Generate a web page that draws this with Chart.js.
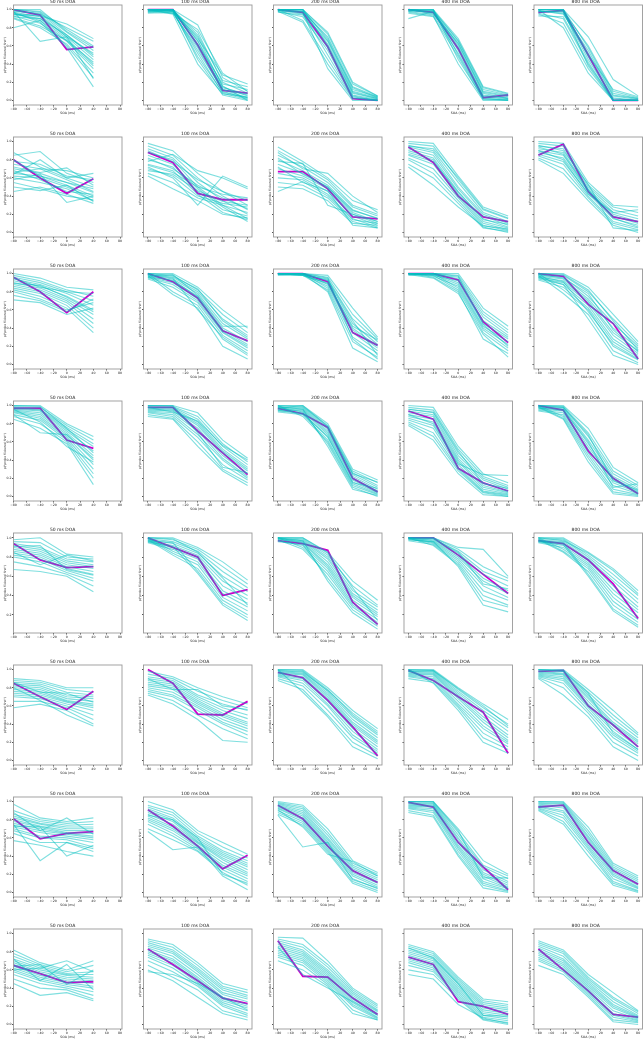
<!DOCTYPE html>
<html lang="en">
<head>
<meta charset="UTF-8">
<title>p(probe first) by SOA and DOA</title>
<script src="https://cdn.jsdelivr.net/npm/chart.js"></script>
<style>
  body { margin: 0; background: #fff; width: 644px; height: 1040px; overflow: hidden; position: relative; }
  .panel { position: absolute; }
</style>
</head>
<body>
<script>
// x values (SOA, ms) and tick labels
const soaShort = [-80, -40, 0, 40];        // 50 ms DOA panels
const soaLong = [-80, -40, 0, 40, 80];     // all other panels
const xTicks = [-80, -60, -40, -20, 0, 20, 40, 60, 80];
const yTicks = [0, 0.2, 0.4, 0.6, 0.8, 1.0];
const doaTitles = ['50 ms DOA', '100 ms DOA', '200 ms DOA', '400 ms DOA', '800 ms DOA'];

// group mean (magenta) per panel, values in percent, one row of the figure per array
const meanR1 = [[100,94,56,59], [100,100,61,11,8], [100,97,59,2,0], [100,97,57,3,6], [97,99,50,0,0]];
const meanR2 = [[80,60,43,59], [88,77,43,36,36], [67,67,48,17,15], [94,77,40,17,12], [85,97,45,17,12]];
const meanR3 = [[96,80,57,80], [100,91,73,37,26], [100,100,91,35,21], [100,100,93,47,24], [100,97,66,45,6]];
const meanR4 = [[97,97,62,53], [98,98,72,48,24], [97,91,76,20,5], [94,85,31,15,6], [100,95,50,20,3]];
const meanR5 = [[94,77,69,70], [100,90,80,40,46], [97,94,87,33,10], [100,100,82,62,42], [97,94,77,52,16]];
const meanR6 = [[85,70,56,76], [100,85,51,50,65], [97,91,66,37,5], [99,88,70,53,8], [98,99,60,39,15]];
const meanR7 = [[81,59,65,67], [91,73,51,26,41], [96,81,51,24,11], [99,94,55,28,3], [94,96,55,24,9]];
const meanR8 = [[65,56,46,47], [83,66,48,29,23], [92,53,52,29,11], [74,66,25,20,11], [83,60,37,11,8]];

// individual participants (cyan), values in percent
const subjR1 = [
  [[100,98,78,60],[98,96,72,50],[97,92,70,45],[95,90,68,40],[100,97,75,55],[93,85,65,35],[96,88,60,25],[90,80,62,30],[99,95,80,65],[92,90,72,48],[80,88,66,42],[98,65,70,52],[94,93,84,68],[97,86,58,15],[100,100,76,58],[91,82,66,38],[95,94,70,24]],
  [[100,100,83,25,10],[100,99,75,20,8],[98,98,70,15,5],[100,100,65,12,3],[97,96,58,10,2],[100,98,52,8,1],[99,100,45,6,0],[100,95,40,7,4],[98,99,62,18,12],[100,100,68,28,18],[96,97,55,12,6],[100,100,72,22,15],[99,98,48,9,3],[100,96,78,30,10],[97,100,60,14,7],[100,99,66,16,0]],
  [[100,100,75,20,5],[100,98,70,15,4],[99,95,65,10,3],[100,100,60,8,2],[98,92,55,5,0],[100,88,45,3,0],[99,97,35,0,0],[100,99,68,12,4],[97,94,58,6,1],[100,100,73,18,5],[100,96,50,4,0],[99,98,62,9,2],[98,86,40,2,1],[100,100,66,14,3]],
  [[100,100,68,15,8],[99,98,62,10,5],[100,96,58,6,3],[98,94,52,4,1],[100,100,45,2,0],[90,98,60,8,2],[97,93,40,0,0],[100,99,65,12,6],[99,97,55,5,2],[98,100,50,3,0],[100,95,63,9,4],[96,92,48,1,1],[100,99,66,14,7]],
  [[100,100,70,23,5],[98,98,60,10,3],[99,95,55,6,2],[100,100,48,3,0],[96,90,40,1,0],[95,85,35,0,0],[100,80,30,0,0],[97,99,52,5,1],[99,97,45,2,0],[100,100,58,8,2],[93,92,42,0,0],[98,96,50,12,4],[100,99,38,0,1]]
];
const subjR2 = [
  [[88,72,60,50],[85,89,65,55],[75,70,58,45],[70,65,55,48],[65,62,52,40],[62,60,50,38],[60,55,48,35],[45,50,42,32],[55,48,40,36],[78,75,62,58],[68,58,45,42],[72,66,71,52],[64,80,60,65],[58,64,33,40],[80,62,55,44],[66,70,68,60],[50,46,52,34]],
  [[98,90,65,45,30],[95,85,60,40,25],[92,82,55,35,20],[88,80,50,30,15],[85,75,48,28,12],[80,72,45,25,18],[75,68,42,22,14],[70,62,40,32,28],[65,55,38,30,22],[62,48,35,20,16],[78,86,68,60,48],[72,60,30,62,50],[90,78,58,45,35],[82,70,52,38,26],[68,64,46,34,30],[74,66,50,42,38]],
  [[94,78,60,35,25],[90,75,58,30,20],[85,72,55,28,18],[80,68,52,25,15],[75,65,50,22,12],[70,62,48,20,10],[65,60,45,18,8],[60,58,42,15,6],[55,52,38,12,5],[50,48,35,10,8],[45,56,40,14,10],[88,70,65,40,22],[78,76,30,20,12],[72,55,46,8,5],[82,64,50,24,16]],
  [[100,98,62,28,18],[98,95,58,25,15],[96,90,55,22,12],[94,88,50,20,10],[92,85,48,18,8],[90,82,45,15,6],[88,80,42,12,5],[85,75,40,10,3],[82,70,38,8,2],[80,65,35,6,0],[75,60,32,5,1],[72,52,28,7,4],[95,92,60,26,16],[86,78,44,14,9]],
  [[100,98,55,30,28],[98,95,52,28,22],[95,92,50,25,18],[92,88,48,22,15],[90,85,46,20,12],[88,82,45,18,10],[86,78,43,15,8],[84,75,40,12,5],[82,70,38,10,3],[80,65,35,8,0],[96,90,53,5,2],[90,80,42,22,25],[94,86,47,16,6]]
];
const subjR3 = [
  [[100,95,85,82],[98,92,82,75],[96,90,80,70],[94,88,78,65],[92,86,75,60],[90,84,72,55],[88,82,70,50],[86,80,68,45],[84,78,65,40],[82,75,62,35],[80,72,60,68],[71,68,55,62],[76,70,58,72],[95,85,80,78],[89,87,74,58]],
  [[100,100,85,60,40],[100,98,82,55,35],[99,96,80,50,32],[98,94,78,45,28],[97,92,75,40,25],[96,90,72,38,22],[95,88,70,35,18],[94,85,68,32,15],[100,80,65,28,10],[98,77,62,20,6],[99,95,60,30,12],[97,99,76,42,42],[96,93,74,36,20],[100,97,83,48,30]],
  [[100,100,98,62,30],[100,100,96,55,28],[100,99,94,50,25],[99,100,92,45,22],[100,98,90,40,20],[100,100,88,38,18],[98,99,86,35,15],[100,100,84,30,12],[99,98,82,25,8],[100,100,80,18,3],[100,99,93,48,10],[99,100,95,28,6],[100,98,89,42,27]],
  [[100,100,100,62,42],[100,100,98,58,38],[100,99,96,55,35],[99,100,94,52,32],[100,98,92,48,30],[100,100,90,45,28],[98,99,88,42,25],[100,97,86,40,22],[99,100,84,38,18],[100,98,82,35,15],[100,96,80,28,12],[99,95,78,33,8],[100,100,97,44,20]],
  [[100,100,85,55,25],[99,98,80,50,22],[98,96,75,45,20],[97,94,72,40,18],[96,92,70,35,15],[95,90,68,32,12],[94,88,65,28,10],[93,85,62,25,8],[100,82,60,20,5],[98,78,55,15,2],[96,88,50,10,0],[99,95,78,38,14],[97,91,58,22,6],[100,99,82,48,16]]
];
const subjR4 = [
  [[100,100,80,66],[99,98,78,62],[98,96,76,58],[97,95,74,55],[96,94,72,50],[95,92,70,45],[94,90,68,40],[93,88,66,35],[92,86,64,30],[90,84,62,25],[88,80,60,20],[85,75,58,13],[90,70,68,42],[100,99,75,48],[96,82,55,38]],
  [[100,100,92,62,42],[100,99,88,58,38],[99,98,85,55,35],[98,97,82,52,32],[97,96,80,50,30],[96,95,78,48,28],[95,94,75,45,25],[94,92,72,42,22],[93,90,68,40,20],[92,88,65,35,18],[90,86,60,30,15],[88,85,55,28,12],[100,100,70,32,26],[98,93,83,56,40]],
  [[100,100,80,30,18],[100,99,78,28,15],[99,98,76,26,12],[98,97,74,24,10],[97,96,72,22,8],[96,95,70,20,6],[95,94,68,18,5],[94,92,65,16,4],[93,90,62,14,3],[100,88,60,12,2],[98,93,58,10,0],[99,96,55,8,1],[97,100,77,25,16],[95,91,66,15,9]],
  [[100,98,55,25,15],[98,95,52,22,12],[96,92,48,20,10],[94,90,45,18,8],[92,88,42,15,6],[90,85,40,12,5],[88,82,38,10,4],[86,78,35,8,3],[84,75,32,6,2],[82,70,30,5,1],[80,66,28,4,0],[78,62,25,2,0],[90,80,36,24,23],[96,93,50,14,9]],
  [[100,100,75,32,15],[100,99,70,28,12],[99,98,66,25,10],[98,97,62,22,8],[97,96,58,20,6],[96,94,55,18,5],[95,92,52,15,4],[94,90,48,12,3],[100,88,45,8,2],[99,86,42,5,1],[98,85,38,3,0],[97,95,60,10,14],[100,98,68,17,7]]
];
const subjR5 = [
  [[98,100,83,80],[96,95,80,78],[94,90,78,75],[92,88,76,72],[90,86,74,70],[88,84,72,68],[86,82,70,65],[84,80,68,62],[82,78,66,58],[80,75,64,55],[75,70,62,50],[67,65,60,44],[85,72,82,76],[91,92,67,61]],
  [[100,100,90,75,56],[100,98,88,70,52],[99,96,86,65,48],[98,94,84,60,44],[97,92,82,55,40],[96,90,80,50,36],[95,88,78,45,32],[100,86,75,42,28],[99,84,72,38,24],[98,82,68,35,20],[97,95,65,32,17],[96,91,63,30,14],[100,99,85,58,30]],
  [[100,100,85,55,35],[100,99,82,50,30],[99,98,80,45,28],[100,97,78,42,25],[98,96,75,40,22],[100,95,72,38,20],[99,94,70,35,18],[97,92,68,32,15],[100,90,65,30,12],[98,88,62,28,10],[96,93,58,25,8],[99,97,55,22,5],[100,100,84,48,14]],
  [[100,100,90,88,60],[100,100,88,70,58],[100,99,86,65,55],[99,98,84,62,50],[100,97,82,58,45],[98,96,80,55,42],[100,95,78,50,38],[99,94,76,45,35],[97,93,74,40,30],[100,92,72,35,28],[98,96,70,30,23],[99,99,85,52,47]],
  [[100,100,85,68,45],[100,99,82,62,40],[99,98,80,58,36],[98,96,78,55,32],[97,94,76,50,28],[96,92,74,46,25],[95,90,72,42,22],[100,88,70,38,18],[99,86,68,34,15],[98,85,65,30,12],[97,95,62,26,9],[96,93,60,24,7],[100,97,84,66,42]]
];
const subjR6 = [
  [[90,88,80,80],[88,86,78,75],[86,84,75,72],[84,82,72,70],[82,80,70,68],[80,78,68,65],[78,76,66,62],[76,74,65,60],[74,72,64,58],[72,70,62,55],[70,68,60,50],[65,65,58,45],[58,62,55,40],[80,66,50,38],[86,75,74,64]],
  [[98,92,80,70,62],[95,90,76,66,58],[92,88,72,62,55],[90,86,70,58,50],[88,84,68,55,46],[86,82,66,52,42],[84,80,64,50,40],[82,78,62,48,38],[80,75,60,45,35],[78,72,58,42,32],[76,70,55,40,28],[74,66,50,35,24],[72,62,45,22,20],[90,78,78,60,56]],
  [[100,100,80,55,35],[100,99,78,50,30],[99,98,76,48,28],[98,96,74,45,25],[97,95,72,42,22],[96,94,70,40,20],[95,92,68,38,18],[94,90,65,35,15],[93,88,62,32,12],[92,85,60,28,10],[90,82,55,25,8],[88,78,50,20,5],[100,75,48,15,2],[99,97,77,52,32]],
  [[100,100,80,62,45],[100,99,78,58,40],[99,98,76,55,36],[98,97,74,52,32],[97,96,72,48,28],[96,95,70,45,25],[95,94,68,42,22],[94,92,65,38,20],[93,90,62,35,18],[92,88,60,30,15],[90,86,58,25,12],[100,85,55,20,8],[98,99,79,60,38]],
  [[100,100,78,55,30],[100,99,75,50,28],[99,98,72,46,25],[98,96,70,42,22],[97,95,68,40,20],[96,94,65,38,18],[95,92,62,35,15],[94,90,60,32,12],[93,88,58,28,10],[92,85,55,25,8],[91,80,52,20,5],[90,72,48,15,0],[100,98,74,30,12]]
];
const subjR7 = [
  [[97,82,78,82],[90,80,76,78],[86,78,74,75],[84,76,72,72],[82,75,70,70],[80,73,68,68],[78,72,66,65],[76,70,65,62],[74,68,64,60],[72,66,62,58],[70,62,60,55],[68,60,58,50],[65,55,55,45],[57,52,45,40],[75,35,55,48],[73,72,40,52],[88,68,82,64]],
  [[100,91,68,55,42],[96,88,65,50,38],[94,85,62,46,35],[92,82,60,44,32],[90,80,58,42,30],[88,78,56,40,28],[86,75,55,38,25],[84,72,54,36,22],[82,70,52,33,20],[80,68,50,30,18],[78,65,48,28,15],[75,62,46,25,12],[70,58,45,22,8],[67,47,50,18,3],[85,80,60,20,10]],
  [[100,96,70,35,22],[99,94,66,32,20],[98,92,63,30,18],[97,90,60,28,16],[96,88,58,26,14],[95,86,56,24,12],[94,84,54,22,10],[93,82,52,20,8],[92,80,50,18,6],[90,78,48,15,4],[88,76,46,12,2],[86,74,44,10,0],[85,50,55,14,5],[91,72,42,34,18]],
  [[100,100,70,35,20],[100,99,66,30,18],[99,98,63,28,15],[98,97,60,25,12],[97,96,58,22,10],[96,95,55,20,8],[95,94,52,18,6],[94,92,50,15,5],[93,90,48,12,4],[92,88,45,10,2],[90,85,42,8,1],[88,83,40,5,0],[100,100,68,16,16]],
  [[100,100,72,32,18],[100,99,68,30,16],[99,98,65,28,14],[98,97,62,26,12],[97,95,60,24,10],[96,93,58,22,8],[95,90,55,20,6],[94,88,52,18,5],[93,85,50,15,4],[92,82,48,12,2],[91,78,45,10,1],[90,75,40,8,0]]
];
const subjR8 = [
  [[82,68,60,70],[78,66,58,65],[75,64,56,58],[72,62,55,55],[70,60,54,52],[68,58,52,50],[66,56,50,48],[64,54,48,45],[62,52,46,42],[60,50,44,40],[58,48,42,36],[55,45,40,32],[50,40,38,28],[45,32,35,26],[60,62,70,58],[72,48,66,38],[64,66,44,60]],
  [[94,88,68,45,38],[92,85,65,42,35],[90,82,62,40,32],[88,80,60,38,30],[86,78,58,35,28],[84,75,55,33,25],[82,72,52,30,22],[80,70,50,28,20],[78,68,48,26,18],[76,65,46,24,15],[74,62,44,22,12],[70,58,42,20,10],[65,52,38,15,8],[60,48,30,12,5],[58,55,45,30,16]],
  [[96,95,70,40,22],[94,88,66,38,20],[92,85,63,36,18],[90,82,60,34,16],[88,80,58,32,15],[86,78,56,30,14],[84,76,54,28,12],[82,74,52,26,10],[80,72,50,24,8],[78,70,48,22,7],[76,68,46,20,6],[74,65,44,16,5],[70,60,42,12,5],[85,55,40,25,10]],
  [[88,80,52,28,25],[86,78,50,26,22],[84,76,48,24,20],[82,74,46,22,18],[80,72,44,20,16],[78,70,42,18,14],[76,68,40,16,12],[74,66,38,14,10],[72,64,36,12,8],[70,62,34,10,6],[68,60,32,8,4],[65,58,30,6,2],[60,55,28,5,0],[55,50,22,7,1],[84,73,45,10,9]],
  [[92,82,55,35,15],[90,80,52,30,14],[88,78,50,28,12],[86,75,48,25,10],[84,72,46,22,9],[82,70,44,20,8],[80,68,42,18,7],[78,66,40,15,6],[76,64,38,12,5],[74,62,36,10,4],[72,60,34,8,3],[70,58,32,5,2],[65,55,30,3,0]]
];

const means = [meanR1, meanR2, meanR3, meanR4, meanR5, meanR6, meanR7, meanR8];
const subjects = [subjR1, subjR2, subjR3, subjR4, subjR5, subjR6, subjR7, subjR8];
const yMinRow = [-0.05, -0.05, -0.05, -0.05, 0.01, -0.05, -0.05, -0.05];

// layout of the axes boxes on the page
const colLeft = [13.5, 143.5, 273.5, 404, 534];
const rowTop = [5, 137, 269, 401, 533, 665, 797, 929];
const axW = 108.5, axH = 100;

const FONT = 'DejaVu Sans';
const cyan = 'rgba(0, 191, 191, 0.5)';
const magenta = '#cc00cc';

// box around each axes, like matplotlib spines
const framePlugin = {
    id: 'frame',
    afterDatasetsDraw(chart) {
        const a = chart.chartArea, ctx = chart.ctx;
        ctx.save();
        ctx.strokeStyle = '#999';
        ctx.lineWidth = 0.9;
        ctx.strokeRect(a.left, a.top, a.right - a.left, a.bottom - a.top);
        ctx.restore();
    }
};

// matplotlib style minus sign on negative tick labels
const fmtX = v => v < 0 ? '\u2212' + Math.abs(v) : String(v);

function makePanel(r, c) {
    const L = c === 0 ? 10.3 : 5.1;   // y axis box width
    const T = 5.4;                   // title block height
    const B = 10;                    // x axis box height
    const x0 = colLeft[c] - L, y0 = rowTop[r] - T;
    const cx = Math.floor(x0), cy = Math.floor(y0);
    const w = Math.ceil(x0 - cx + L + axW + 5);
    const h = Math.ceil(y0 - cy + T + axH + B + 1);
    const pad = {
        left: x0 - cx,
        top: y0 - cy,
        right: w - (x0 - cx) - L - axW,
        bottom: h - (y0 - cy) - T - axH - B
    };

    const cv = document.createElement('canvas');
    cv.className = 'panel';
    cv.width = w; cv.height = h;
    cv.style.left = cx + 'px'; cv.style.top = cy + 'px';
    cv.style.width = w + 'px'; cv.style.height = h + 'px';
    document.body.appendChild(cv);

    const soa = c === 0 ? soaShort : soaLong;
    const toPts = vals => vals.map((v, i) => ({ x: soa[i], y: v / 100 }));

    const datasets = subjects[r][c].map(s => ({
        data: toPts(s), borderColor: cyan, borderWidth: 1.1, pointRadius: 0, tension: 0
    }));
    datasets.push({ data: toPts(means[r][c]), borderColor: magenta, borderWidth: 1.8, pointRadius: 0, tension: 0 });

    new Chart(cv, {
        type: 'line',
        data: { datasets },
        plugins: [framePlugin],
        options: {
            responsive: false,
            animation: false,
            events: [],
            layout: { padding: pad },
            plugins: {
                legend: { display: false },
                tooltip: { enabled: false },
                title: {
                    display: true, text: doaTitles[c], color: '#222',
                    font: { family: FONT, size: 4.5, lineHeight: 1.2, weight: 'normal' },
                    padding: { top: 0, bottom: 0 }
                }
            },
            scales: {
                x: {
                    type: 'linear',
                    min: c === 0 ? -80 : -87,
                    max: c === 0 ? 83 : 87,
                    afterBuildTicks: s => { s.ticks = xTicks.filter(v => v >= s.min && v <= s.max).map(v => ({ value: v })); },
                    afterFit: s => { s.height = B; },
                    border: { display: false },
                    grid: { drawOnChartArea: false, drawTicks: true, tickLength: 1.5, tickColor: '#555' },
                    ticks: { color: '#222', font: { family: FONT, size: 3.2 }, padding: 0.5, maxRotation: 0, autoSkip: false, callback: fmtX },
                    title: { display: true, text: 'SOA (ms)', color: '#222', padding: 0, font: { family: FONT, size: 3.2 } }
                },
                y: {
                    min: yMinRow[r], max: 1.05,
                    afterBuildTicks: s => { s.ticks = yTicks.filter(v => v >= s.min && v <= s.max).map(v => ({ value: v })); },
                    afterFit: s => { s.width = L; },
                    border: { display: false },
                    grid: { drawOnChartArea: false, drawTicks: true, tickLength: 1.5, tickColor: '#555' },
                    ticks: {
                        color: '#222', font: { family: FONT, size: 3.2 }, padding: 0.5,
                        callback: v => c === 0 ? v.toFixed(1) : ''
                    },
                    title: { display: true, text: 'p("probe flickered first")', color: '#222', padding: 0, font: { family: FONT, size: 3 } }
                }
            }
        }
    });
}

for (let r = 0; r < 8; r++) {
    for (let c = 0; c < 5; c++) makePanel(r, c);
}
</script>
</body>
</html>
